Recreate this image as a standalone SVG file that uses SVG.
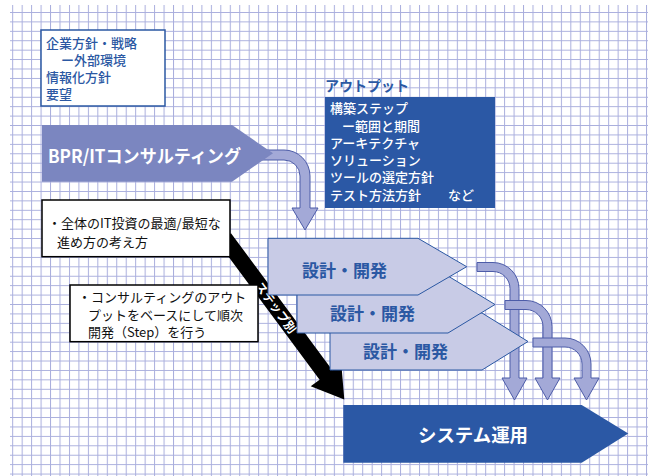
<svg xmlns="http://www.w3.org/2000/svg" width="648" height="476" viewBox="0 0 648 476">
<defs>
<pattern id="grid" patternUnits="userSpaceOnUse" x="12.2" y="12" width="9.46" height="9.42">
<path d="M0 0.5H9.46M0.5 0V9.42" stroke="#a9aedd" stroke-width="1" fill="none"/>
</pattern>
<style>
text{font-family:"Noto Sans CJK JP","Liberation Sans",sans-serif;}
.bt{fill:#2b58a3;font-size:13px;font-weight:500;}
.wt{fill:#ffffff;font-size:13px;font-weight:500;}
.kt{fill:#111111;font-size:13px;}
.dev{fill:#c8cbe6;stroke:#2b58a3;stroke-width:1;}
.devt{fill:#2b58a3;font-size:17.5px;font-weight:bold;}
.carrow{fill:#a3a9d7;stroke:#4d5ca8;stroke-width:1;}
.note{fill:#ffffff;stroke:#000000;stroke-width:1.5;}
</style>
</defs>
<rect x="0" y="0" width="648" height="476" fill="#ffffff"/>
<rect x="10" y="5" width="638" height="471" fill="url(#grid)"/>

<g id="connectors">
<path class="carrow" d="M262,150 H284 A26,26 0 0 1 310,176 V208 H318 L305,230 L292,208 H300 V176 A16,16 0 0 0 284,160 H262 Z"/>
<path class="carrow" d="M477,262.5 H493 A26,26 0 0 1 519,288.5 V378 H527 L514.5,400 L502,378 H510 V288.5 A17,17 0 0 0 493,271.5 H477 Z"/>
<path class="carrow" d="M505,300.5 H526 A26,26 0 0 1 552,326.5 V378 H560 L547.5,400 L535,378 H543 V326.5 A17,17 0 0 0 526,309.5 H505 Z"/>
<path class="carrow" d="M533,338 H565 A26,26 0 0 1 591,364 V378 H599 L586.5,400 L574,378 H582 V364 A17,17 0 0 0 565,347 H533 Z"/>
<polygon points="231,233.2 332.4,370.2 341.3,363.7 344.3,399.5 310.7,386.3 319.6,379.8 218.2,242.8" fill="#000000"/>
<text x="276" y="307.5" transform="rotate(53.5 276 307.5)" text-anchor="middle" dy="4.5" fill="#ffffff" font-size="12" font-weight="bold">ステップ別</text>
</g>

<g id="strategy">
<rect x="41" y="30" width="124" height="76" fill="#ffffff" stroke="#2b58a3" stroke-width="1.5"/>
<text class="bt" x="46" y="48">企業方針・戦略</text>
<text class="bt" x="61" y="65">ー外部環境</text>
<text class="bt" x="46" y="82">情報化方針</text>
<text class="bt" x="46" y="99">要望</text>
</g>

<g id="output">
<text x="325" y="91" fill="#2b58a3" font-size="14" font-weight="bold">アウトプット</text>
<rect x="325" y="97" width="170" height="111" fill="#2b58a5"/>
<text class="wt" x="330" y="113">構築ステップ</text>
<text class="wt" x="342" y="131">ー範囲と期間</text>
<text class="wt" x="330" y="148">アーキテクチャ</text>
<text class="wt" x="330" y="165">ソリューション</text>
<text class="wt" x="330" y="182">ツールの選定方針</text>
<text class="wt" x="330" y="200">テスト方法方針</text>
<text class="wt" x="448" y="200">など</text>
</g>

<g id="bpr">
<polygon points="42,125 232,125 273,153.3 232,181.7 42,181.7" fill="#7b86c0"/>
<text x="48" y="163" fill="#ffffff" font-size="18" font-weight="bold" textLength="193" lengthAdjust="spacingAndGlyphs">BPR/ITコンサルティング</text>
</g>

<g id="dev3">
<polygon class="dev" points="330,313 482,313 528,341.5 482,370 330,370"/>
<text class="devt" x="363" y="358" textLength="85" lengthAdjust="spacingAndGlyphs">設計・開発</text>
</g>
<g id="dev2">
<polygon class="dev" points="297,276 448,276 495,304.5 448,333 297,333"/>
<text class="devt" x="330" y="320" textLength="85" lengthAdjust="spacingAndGlyphs">設計・開発</text>
</g>
<g id="dev1">
<polygon class="dev" points="268,238.3 418,238.3 466.7,266.7 418,295 268,295"/>
<text class="devt" x="302" y="276.5" textLength="85" lengthAdjust="spacingAndGlyphs">設計・開発</text>
</g>

<g id="note1">
<rect class="note" x="42" y="200" width="188" height="56.7"/>
<text class="kt" x="48" y="228">・全体のIT投資の最適/最短な</text>
<text class="kt" x="57" y="246.5">進め方の考え方</text>
</g>

<g id="note2">
<rect class="note" x="70" y="285" width="188" height="56.7"/>
<text class="kt" x="78" y="302">・コンサルティングのアウト</text>
<text class="kt" x="88" y="319.5">プットをベースにして順次</text>
<text class="kt" x="88" y="336.5">開発（Step）を行う</text>
</g>

<g id="operation">
<polygon points="343.3,405 581.7,405 628.3,433.5 581.7,462.7 343.3,462.7" fill="#2b58a5"/>
<text x="418" y="441.5" fill="#ffffff" font-size="18.3" font-weight="bold" textLength="110" lengthAdjust="spacingAndGlyphs">システム運用</text>
</g>
</svg>
